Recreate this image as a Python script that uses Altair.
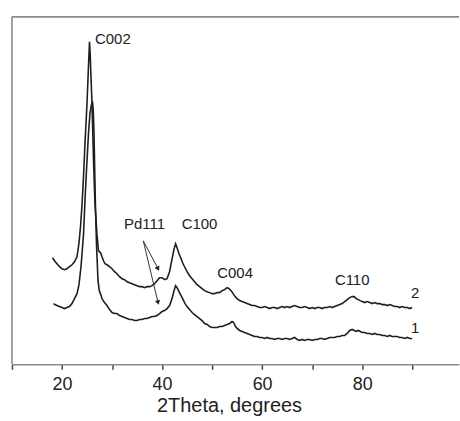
import altair as alt
import pandas as pd

# ---- curve 2 (upper trace) ----
x2 = [18.1, 18.5, 19.0, 19.5, 20.0, 20.5, 21.0, 21.5, 22.0, 22.5, 23.0, 23.4, 23.7, 24.0, 24.3, 24.6,
      25.0, 25.3, 25.5, 25.65, 25.8, 26.0, 26.3, 26.6, 27.0, 27.3, 27.7, 28.0, 28.3, 28.6, 29.0, 29.5,
      30.0, 30.5, 31.0, 31.5, 32.0, 32.5, 33.0, 33.5, 34.0, 34.5, 35.0, 35.5, 36.0, 36.5, 37.0, 37.5,
      38.0, 38.5, 39.0, 39.5, 40.0, 40.5, 41.0, 41.5, 42.0, 42.4, 42.7, 43.0, 43.4, 43.8, 44.2, 44.6,
      45.0, 45.5, 46.0, 46.5, 47.0, 47.5, 48.0, 48.5, 49.0, 49.5, 50.0, 50.5, 51.0, 51.5, 52.0, 52.5,
      53.0, 53.4, 53.8, 54.2, 54.6, 55.0, 55.5, 56.0, 56.5, 57.0, 57.5, 58.0, 58.5, 59.0, 59.5, 60.0,
      60.5, 61.0, 61.5, 62.0, 62.5, 63.0, 63.5, 64.0, 64.5, 65.0, 65.5, 66.0, 66.5, 67.0, 67.5, 68.0,
      68.5, 69.0, 69.5, 70.0, 70.5, 71.0, 71.5, 72.0, 72.5, 73.0, 73.5, 74.0, 74.5, 75.0, 75.5, 76.0,
      76.5, 77.0, 77.5, 78.0, 78.4, 78.8, 79.2, 79.6, 80.0, 80.5, 81.0, 81.5, 82.0, 82.5, 83.0, 83.5,
      84.0, 84.5, 85.0, 85.5, 86.0, 86.5, 87.0, 87.5, 88.0, 88.5, 89.0, 89.5, 90.0]
y2 = [107, 104, 101, 98, 96, 95, 96, 98, 100, 103, 108, 122, 138, 160, 188, 222,
      262, 300, 324, 310, 288, 262, 205, 160, 130, 114, 112, 108, 104, 101, 100, 98,
      96, 93, 91, 88, 86, 85, 83, 82, 81, 80, 79, 78, 78, 77, 78, 78,
      79, 81, 84, 87, 87, 85, 86, 93, 106, 116, 121, 117, 111, 106, 101, 97,
      93, 89, 86, 83, 80, 78, 76, 74, 73, 72, 71, 71, 72, 72, 74, 75,
      77, 76, 74, 71, 68, 66, 64, 63, 62, 61, 60, 59, 59, 58, 57, 57,
      58, 57, 56, 57, 57, 56, 57, 58, 57, 58, 57, 58, 59, 58, 57, 57,
      58, 57, 56, 57, 56, 57, 57, 56, 57, 57, 58, 57, 58, 59, 60, 61,
      63, 65, 67, 68, 68, 66, 65, 64, 63, 62, 63, 62, 61, 62, 61, 61,
      60, 60, 59, 60, 59, 58, 58, 57, 58, 57, 57, 56, 57]

# ---- curve 1 (lower trace) ----
x1 = [18.3, 18.6, 19.0, 19.5, 20.0, 20.5, 21.0, 21.5, 22.0, 22.5, 23.0, 23.4, 23.8, 24.3, 24.6, 24.9,
      25.3, 25.6, 25.85, 26.1, 26.25, 26.4, 26.65, 26.9, 27.2, 27.45, 27.75, 28.0, 28.5, 29.0, 29.5, 30.0,
      30.5, 31.0, 31.5, 32.0, 32.5, 33.0, 33.5, 34.0, 34.5, 35.0, 35.5, 36.0, 36.5, 37.0, 37.5, 38.0,
      38.5, 39.0, 39.5, 40.0, 40.5, 41.0, 41.5, 42.0, 42.4, 42.7, 43.0, 43.4, 43.8, 44.2, 44.6, 45.0,
      45.5, 46.0, 46.5, 47.0, 47.5, 48.0, 48.5, 49.0, 49.5, 50.0, 50.5, 51.0, 51.5, 52.0, 52.5, 53.0,
      53.5, 54.0, 54.3, 54.7, 55.0, 55.5, 56.0, 56.5, 57.0, 57.5, 58.0, 58.5, 59.0, 59.5, 60.0, 60.5,
      61.0, 61.5, 62.0, 62.5, 63.0, 63.5, 64.0, 64.5, 65.0, 65.5, 66.0, 66.5, 67.0, 67.5, 68.0, 68.5,
      69.0, 69.5, 70.0, 70.5, 71.0, 71.5, 72.0, 72.5, 73.0, 73.5, 74.0, 74.5, 75.0, 75.5, 76.0, 76.5,
      77.0, 77.5, 78.0, 78.4, 78.8, 79.2, 79.6, 80.0, 80.5, 81.0, 81.5, 82.0, 82.5, 83.0, 83.5, 84.0,
      84.5, 85.0, 85.5, 86.0, 86.5, 87.0, 87.5, 88.0, 88.5, 89.0, 89.5, 90.0]
y1 = [61, 60, 59, 58, 57, 56, 57, 58, 61, 66, 71, 80, 98, 130, 165, 195,
      232, 252, 260, 264, 255, 232, 167, 120, 84, 74, 70, 66, 62, 59, 55, 52,
      51, 51, 49, 48, 47, 46, 45, 45, 44, 44, 45, 45, 46, 46, 47, 48,
      48, 49, 51, 53, 54, 56, 59, 66, 74, 79, 77, 73, 69, 65, 61, 58,
      55, 52, 50, 48, 46, 44, 41, 40, 38, 37, 37, 37, 38, 38, 39, 40,
      41, 43, 42, 38, 36, 34, 33, 32, 31, 30, 29, 28, 28, 27, 27, 26,
      27, 26, 26, 25, 26, 26, 25, 26, 26, 25, 26, 27, 25, 24, 25, 24,
      25, 25, 24, 25, 25, 26, 26, 25, 26, 27, 27, 27, 28, 28, 29, 29,
      31, 34, 35, 34, 33, 34, 33, 32, 32, 31, 31, 30, 31, 30, 30, 29,
      29, 28, 29, 28, 28, 28, 27, 27, 26, 27, 26, 26]

assert len(x1) == len(y1) and len(x2) == len(y2)

# ---- annotations ----
label_text = ["C002", "Pd111", "C100", "C004", "C110", "2", "1"]
label_x = [26.6, 36.5, 47.5, 54.6, 78.0, 90.6, 90.6]
label_y = [327, 141, 141, 92, 85, 72, 36]
label_align = ["left", "center", "center", "center", "center", "center", "center"]

arrow_x0 = [36.25, 36.25]
arrow_y0 = [124, 124]
arrow_x1 = [39.2, 39.2]
arrow_y1 = [96, 62]
arrow_angle = [152, 166]

tick_values = [10, 20, 30, 40, 50, 60, 70, 80, 90]

W, H = 449, 349
XDOM = [10, 99.35]
YDOM = [0, 349]
FONT = "Liberation Sans"
INK = "#1e1e1e"
FRAME = "#8a8a8a"

df = pd.concat([
    pd.DataFrame({"theta": x2, "I": y2, "curve": "2"}),
    pd.DataFrame({"theta": x1, "I": y1, "curve": "1"}),
])
lab = pd.DataFrame({"t": label_text, "x": label_x, "y": label_y, "al": label_align})
arr = pd.DataFrame({"x0": arrow_x0, "y0": arrow_y0, "x1": arrow_x1, "y1": arrow_y1, "ang": arrow_angle})

xs = alt.Scale(domain=XDOM, nice=False, zero=False)
ys = alt.Scale(domain=YDOM, nice=False, zero=False)

xaxis = alt.Axis(
    values=tick_values, labelExpr="datum.value % 20 == 0 ? datum.label : ''",
    title="2Theta, degrees", grid=False, domainColor=FRAME, domainWidth=1.6,
    tickColor="#444", tickSize=5, tickWidth=1.5, labelFont=FONT, labelFontSize=18,
    labelColor="#222", labelPadding=6, titleFont=FONT, titleFontSize=20,
    titleFontWeight="normal", titleColor="#222", titlePadding=2, titleX=218,
)

lines = alt.Chart(df).mark_line(color=INK, strokeWidth=1.6, clip=True).encode(
    x=alt.X("theta:Q", scale=xs, axis=xaxis),
    y=alt.Y("I:Q", scale=ys, axis=None),
    detail="curve:N",
)

texts_left = alt.Chart(lab[lab.al == "left"]).mark_text(
    font=FONT, fontSize=15, color="#222", align="left", baseline="middle"
).encode(x=alt.X("x:Q", scale=xs), y=alt.Y("y:Q", scale=ys), text="t:N")

texts_center = alt.Chart(lab[lab.al == "center"]).mark_text(
    font=FONT, fontSize=15, color="#222", align="center", baseline="middle"
).encode(x=alt.X("x:Q", scale=xs), y=alt.Y("y:Q", scale=ys), text="t:N")

shafts = alt.Chart(arr).mark_rule(color="#333", strokeWidth=1).encode(
    x=alt.X("x0:Q", scale=xs), y=alt.Y("y0:Q", scale=ys),
    x2="x1:Q", y2="y1:Q",
)
heads = alt.Chart(arr).mark_point(shape="triangle-up", filled=True, size=28, color="#222", opacity=1).encode(
    x=alt.X("x1:Q", scale=xs), y=alt.Y("y1:Q", scale=ys),
    angle=alt.Angle("ang:Q", scale=None),
)

top_border = alt.Chart(pd.DataFrame({"k": [0]})).mark_rule(color=FRAME, strokeWidth=1.6).encode(
    x=alt.value(0), x2=alt.value(W), y=alt.value(0)
)
left_border = alt.Chart(pd.DataFrame({"k": [0]})).mark_rule(color=FRAME, strokeWidth=1.6).encode(
    x=alt.value(0), y=alt.value(0), y2=alt.value(H)
)

chart = alt.layer(
    top_border, left_border, lines, shafts, heads, texts_left, texts_center
).properties(
    width=W, height=H,
    padding={"left": 11, "top": 15, "right": 0, "bottom": 0},
    background="white",
).configure_view(stroke=None)

chart.save("out.html", embed_options={"renderer": "svg", "actions": False})
